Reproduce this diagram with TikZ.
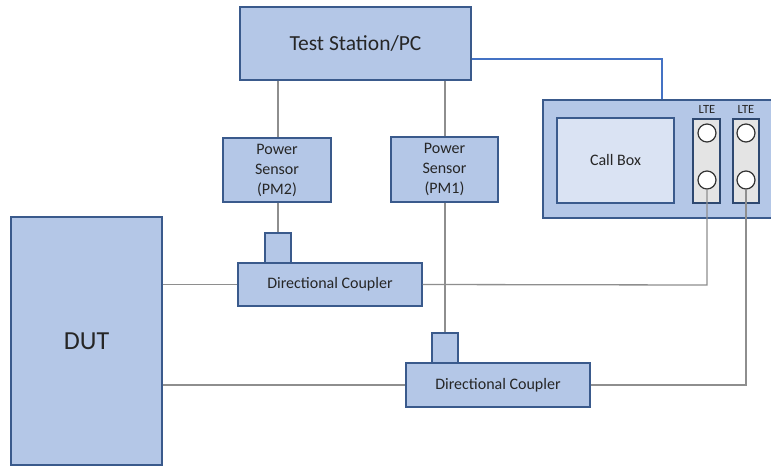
\documentclass[tikz,border=0pt]{standalone}
\usepackage{fontspec}
\setmainfont{Carlito}
\definecolor{boxfill}{HTML}{B4C7E7}
\definecolor{boxline}{HTML}{3A5A8C}
\definecolor{innerfill}{HTML}{DAE3F3}
\definecolor{portfill}{HTML}{E4E4E4}
\definecolor{wire}{HTML}{8E8E8E}
\definecolor{bluewire}{HTML}{4472C4}
\definecolor{txt}{HTML}{262626}
\begin{document}
\begin{tikzpicture}[x=1pt,y=-1pt,
  blk/.style={draw=boxline,fill=boxfill,line width=1.3pt,inner sep=0pt,text=txt,align=center},
  port/.style={draw=boxline!80!black,fill=portfill,line width=1.2pt,inner sep=0pt},
  jack/.style={circle,draw=black!80,fill=white,line width=1.2pt,minimum size=18pt,inner sep=0pt},
  wireline/.style={draw=wire,line width=1.3pt},
  bluelink/.style={draw=bluewire,line width=1.3pt},
  lbl/.style={font=\fontsize{16}{20}\selectfont}]
\clip (0,0) rectangle (771,466);
\fill[white] (0,0) rectangle (771,466);
% blocks
\node[blk,minimum width=231pt,minimum height=73pt,font=\fontsize{21.5}{24}\selectfont] (ts) at (355.5,43.5) {Test Station/PC};
\node[blk,minimum width=247pt,minimum height=118pt] (cb) at (666.5,159) {};
\node[blk,fill=innerfill,minimum width=117pt,minimum height=85pt,lbl] (callbox) at (615.5,160.5) {Call Box};
\node[port,minimum width=27pt,minimum height=84pt] (lte1) at (706.5,161) {};
\node[port,minimum width=26pt,minimum height=84pt] (lte2) at (746,161) {};
\node[text=txt,font=\fontsize{12.5}{14}\selectfont] (l1) at (707,109) {LTE};
\node[text=txt,font=\fontsize{12.5}{14}\selectfont] (l2) at (746,109) {LTE};
\node[jack] (j1a) at (707,133) {};
\node[jack] (j1b) at (707,180) {};
\node[jack] (j2a) at (746,133) {};
\node[jack] (j2b) at (746,180) {};
\node[blk,minimum width=108pt,minimum height=64pt,lbl] (pm2) at (277,170) {Power\\Sensor\\(PM2)};
\node[blk,minimum width=107pt,minimum height=65pt,lbl] (pm1) at (444.5,169.5) {Power\\Sensor\\(PM1)};
\node[blk,minimum width=26pt,minimum height=30pt] (tab1) at (278,248) {};
\node[blk,minimum width=184pt,minimum height=43pt,lbl] (dc1) at (330,284.5) {Directional Coupler};
\node[blk,minimum width=26pt,minimum height=30pt] (tab2) at (445,348) {};
\node[blk,minimum width=184pt,minimum height=44pt,lbl] (dc2) at (498,385) {Directional Coupler};
\node[blk,minimum width=151pt,minimum height=248pt,font=\fontsize{26}{30}\selectfont] (dut) at (86.5,341) {DUT};
% connectors
\coordinate (b1) at (707,285);
\coordinate (b2) at (746,385);
\coordinate (bb) at (662,59);
\draw[wireline] (ts.south -| tab1.north) -- (pm2.north -| tab1.north);
\draw[wireline] (pm2.south -| tab1.north) -- (tab1.north);
\draw[wireline] (ts.south -| tab2.north) -- (pm1.north -| tab2.north);
\draw[wireline] (pm1.south -| tab2.north) -- (tab2.north);
\draw[wireline] (dut.east |- dc1.west) -- (dc1.west);
\draw[wireline] (dc1.east) -- (b1) -- (j1b.south);
\draw[wireline] (dut.east |- dc2.west) -- (dc2.west);
\draw[wireline] (dc2.east) -- (b2) -- (j2b.south);
\draw[bluelink] (ts.east |- bb) -- (bb) -- (bb |- cb.north);
\end{tikzpicture}
\end{document}
